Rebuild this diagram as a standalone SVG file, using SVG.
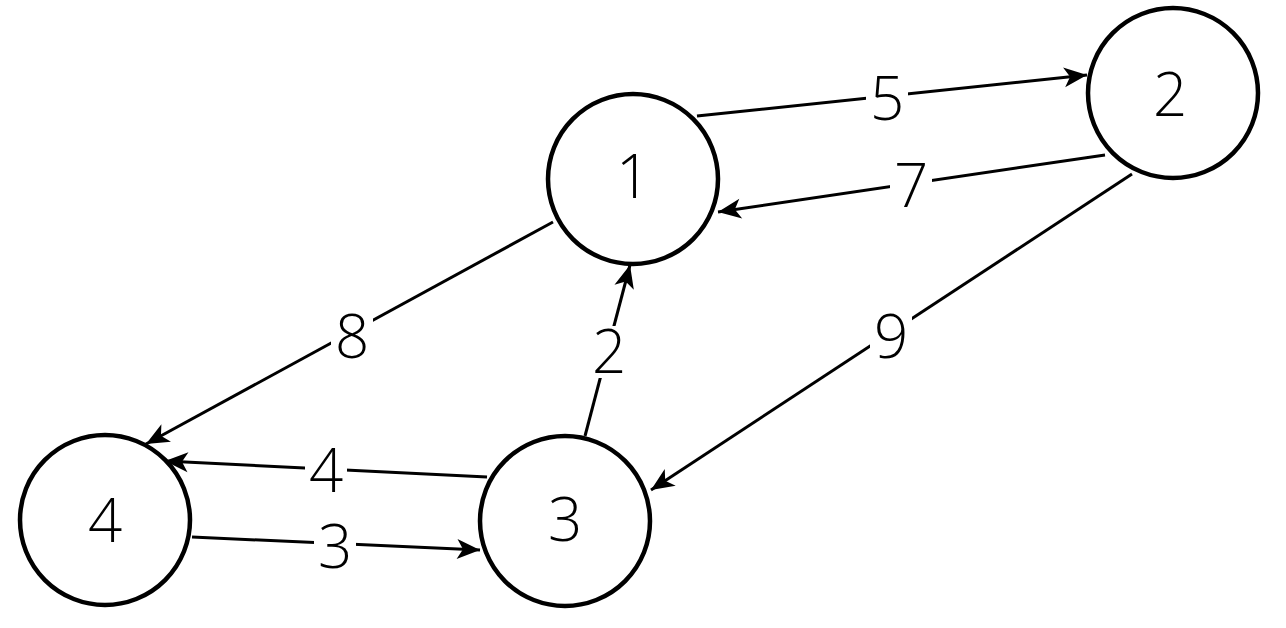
<svg xmlns="http://www.w3.org/2000/svg" width="1286" height="628" viewBox="0 0 1286 628">
<style>
.node circle{fill:#fff;stroke:#000;stroke-width:4.5}
.lbl{font-family:"Open Sans","Noto Sans","DejaVu Sans",sans-serif;font-size:60px;font-weight:300;fill:#000;text-anchor:middle}
.edge line{stroke:#000;stroke-width:3;marker-end:url(#arr)}
.bg{fill:#fff}
</style>
<defs>
<marker id="arr" markerUnits="userSpaceOnUse" markerWidth="30" markerHeight="30" viewBox="-26 -13 30 26" refX="0" refY="0" orient="auto">
<path d="M0,0 L-23,-10 L-17,0 L-23,10 Z" fill="#000"/>
</marker>
</defs>
<rect width="1286" height="628" fill="#fff"/>
<g id="connectors">
<g class="edge" id="e1-2"><line x1="697" y1="116" x2="1087" y2="75"/><rect class="bg" x="866" y="72" width="42" height="52"/><text class="lbl" x="887" y="120">5</text></g>
<g class="edge" id="e2-1"><line x1="1105" y1="155" x2="718" y2="212"/><rect class="bg" x="890" y="159" width="42" height="52"/><text class="lbl" x="911" y="207">7</text></g>
<g class="edge" id="e1-4"><line x1="553" y1="222" x2="146" y2="444"/><rect class="bg" x="331" y="311" width="42" height="52"/><text class="lbl" x="352" y="358">8</text></g>
<g class="edge" id="e3-1"><line x1="585" y1="436" x2="630" y2="265"/><rect class="bg" x="589" y="326" width="40" height="52"/><text class="lbl" x="609" y="373">2</text></g>
<g class="edge" id="e2-3"><line x1="1132" y1="174" x2="651" y2="490"/><rect class="bg" x="870" y="311" width="42" height="52"/><text class="lbl" x="891" y="358">9</text></g>
<g class="edge" id="e3-4"><line x1="487" y1="477" x2="165" y2="461"/><rect class="bg" x="305" y="445" width="42" height="52"/><text class="lbl" x="326" y="492">4</text></g>
<g class="edge" id="e4-3"><line x1="192" y1="537" x2="480" y2="550"/><rect class="bg" x="314" y="521" width="42" height="52"/><text class="lbl" x="335" y="568">3</text></g>
</g>
<g class="node" id="node1"><circle cx="633" cy="179" r="85"/><text class="lbl" x="633" y="198">1</text></g>
<g class="node" id="node2"><circle cx="1173" cy="93" r="85"/><text class="lbl" x="1170" y="116">2</text></g>
<g class="node" id="node3"><circle cx="565" cy="521" r="85"/><text class="lbl" x="565" y="541">3</text></g>
<g class="node" id="node4"><circle cx="105" cy="520" r="85"/><text class="lbl" x="105" y="542">4</text></g>
</svg>
